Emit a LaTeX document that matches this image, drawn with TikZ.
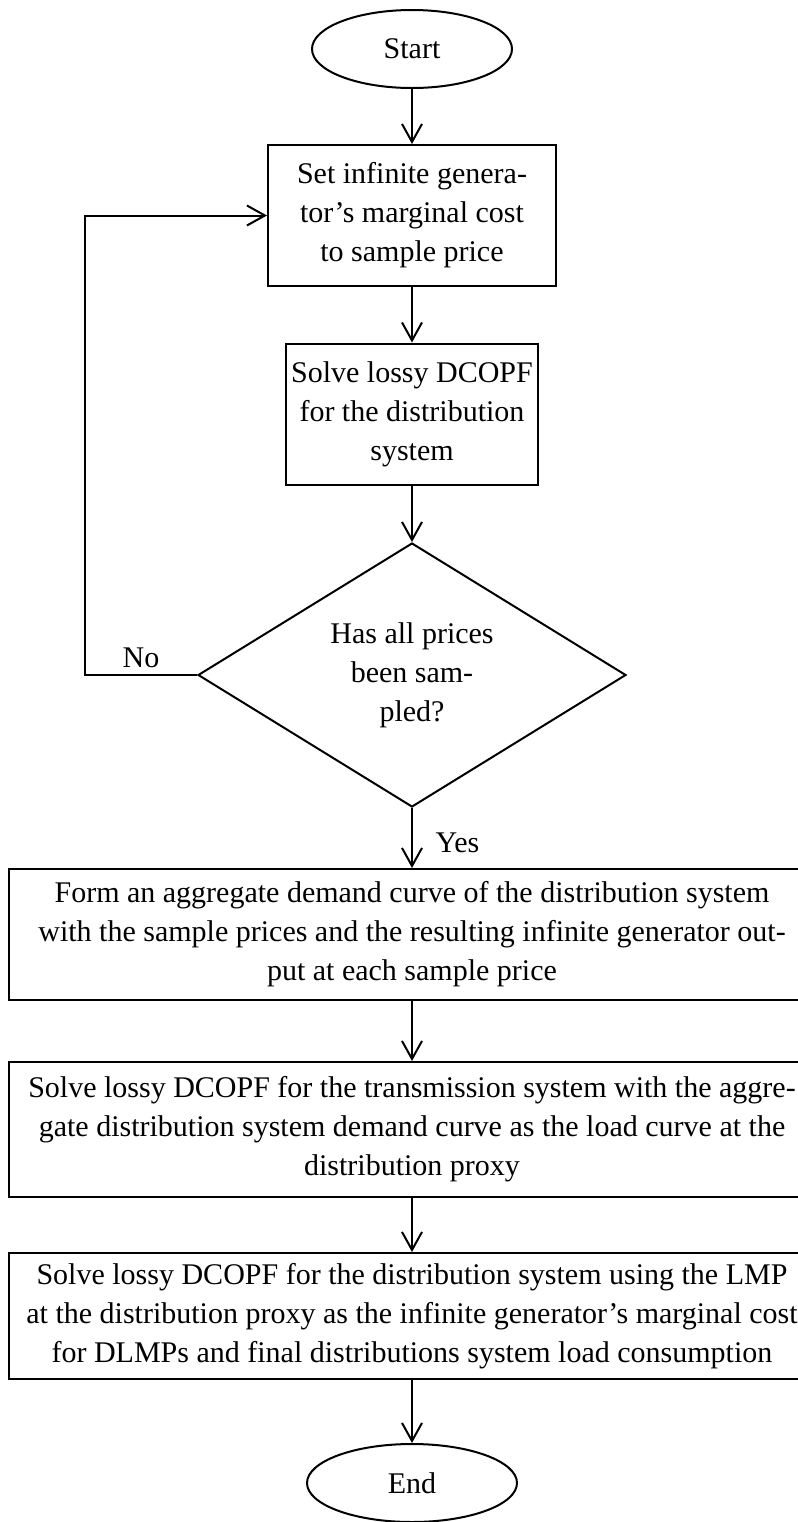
\documentclass[tikz,border=0pt]{standalone}
\usepackage{fontspec}
\setmainfont{Liberation Serif}
\usetikzlibrary{shapes.geometric,arrows.meta}
\begin{document}
\begin{tikzpicture}[x=0.5pt,y=-0.5pt,
  every node/.style={font=\fontsize{15}{19.5}\selectfont, line width=1pt},
  term/.style={draw, ellipse, minimum width=100pt, minimum height=39pt, inner sep=0pt},
  procbox/.style={draw, rectangle, align=center, inner sep=0pt},
  decide/.style={draw, diamond, align=center, aspect=1.6, inner sep=0pt, minimum width=214pt, minimum height=132pt},
  flow/.style={line width=1pt, -{Straight Barb[length=9pt,width=10pt]}}]
\useasboundingbox (0,0) rectangle (798,1522);
% steps
\node[term] (start) at (412,49) {Start};
\node[procbox, minimum width=144pt, minimum height=70.5pt] (setcost) at (412,215.5) {Set infinite genera-\\tor's marginal cost\\to sample price};
\node[procbox, minimum width=126pt, minimum height=70.5pt] (solvedist) at (412,414) {Solve lossy DCOPF\\for the distribution\\system};
\node[decide] (allsampled) at (412,675) {Has all prices\\been sam-\\pled?};
\node[procbox, minimum width=403pt, minimum height=65.5pt] (demand) at (412,934.5) {Form an aggregate demand curve of the distribution system\\with the sample prices and the resulting infinite generator out-\\put at each sample price};
\node[procbox, minimum width=403pt, minimum height=67.5pt] (solvetrans) at (412,1129.5) {Solve lossy DCOPF for the transmission system with the aggre-\\gate distribution system demand curve as the load curve at the\\distribution proxy};
\node[procbox, minimum width=403pt, minimum height=63pt] (solvefinal) at (412,1316) {Solve lossy DCOPF for the distribution system using the LMP\\at the distribution proxy as the infinite generator's marginal cost\\for DLMPs and final distributions system load consumption};
\node[term, minimum width=105pt] (finish) at (412,1483) {End};
% arrows
\draw[flow] (start) -- (setcost);
\draw[flow] (setcost) -- (solvedist);
\draw[flow] (solvedist) -- (allsampled);
\draw[flow] (allsampled) -- node[right, pos=0.58, xshift=8pt] {Yes} (demand);
\draw[flow] (demand) -- (solvetrans);
\draw[flow] (solvetrans) -- (solvefinal);
\draw[flow] (solvefinal) -- (finish);
\draw[flow] (allsampled.west) -- node[above] {No} ++(-112,0) |- (setcost.west);
\end{tikzpicture}
\end{document}
